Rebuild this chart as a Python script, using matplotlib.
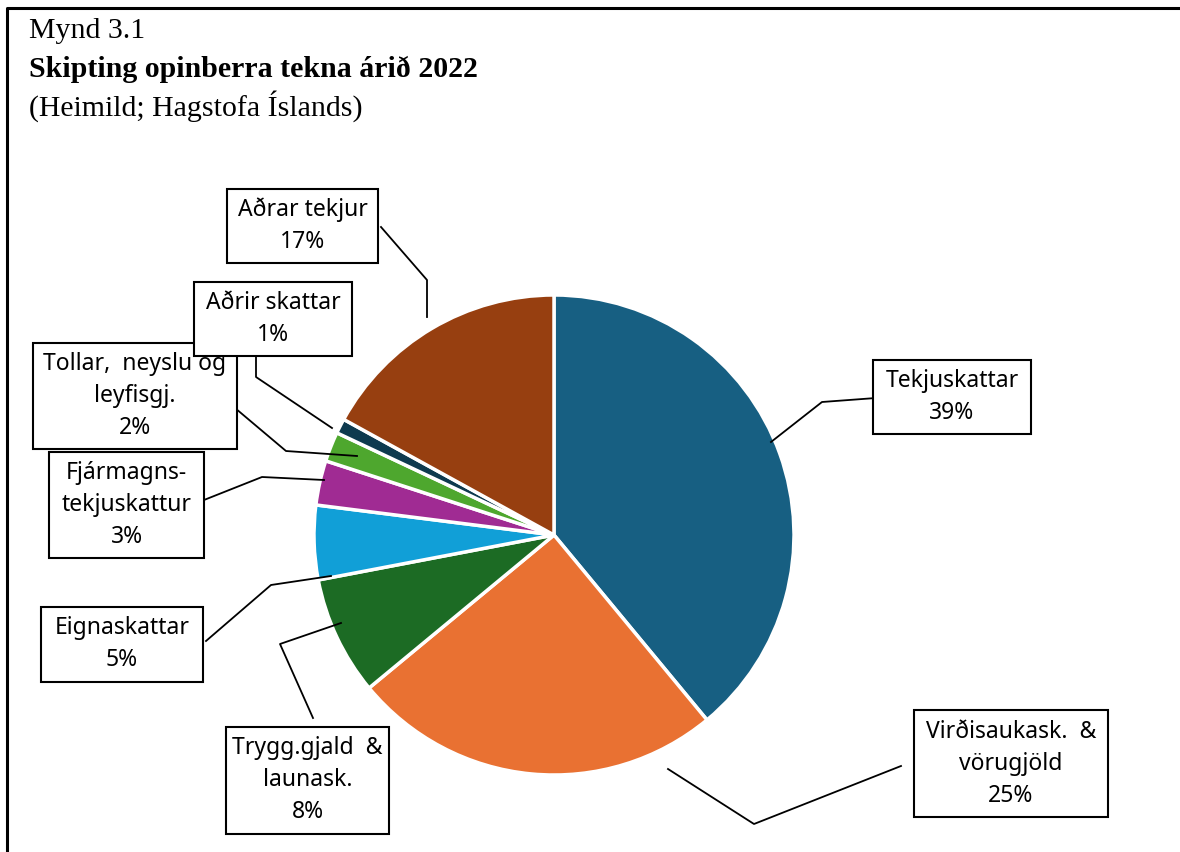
import matplotlib
matplotlib.use("Agg")
import matplotlib.pyplot as plt
from matplotlib.patches import Rectangle

# Public revenue split, 2022 (% of total), clockwise from 12 o'clock
categories = [
    "Tekjuskattar",
    "Virðisaukask.  &\nvörugjöld",
    "Trygg.gjald  &\nlaunask.",
    "Eignaskattar",
    "Fjármagns-\ntekjuskattur",
    "Tollar,  neyslu og\nleyfisgj.",
    "Aðrir skattar",
    "Aðrar tekjur",
]
shares = [39, 25, 8, 5, 3, 2, 1, 17]
colors = ["#175F82", "#E97132", "#1C6B24", "#119FD7", "#A02B93", "#4EA72E", "#0E3A4F", "#973F10"]

# label boxes (x0, y0, x1, y1) in pixels, y measured downwards
boxes = [
    (873, 360, 1031, 434),
    (914, 710, 1108, 817),
    (226, 727, 389, 834),
    (41, 607, 203, 682),
    (49, 452, 204, 558),
    (33, 343, 237, 449),
    (194, 282, 352, 356),
    (227, 189, 378, 263),
]
# leader lines from box to slice
leaders = [
    [(876, 398), (822, 402), (771, 442)],
    [(901, 766), (754, 824), (668, 769)],
    [(313, 718), (280, 644), (341, 623)],
    [(206, 641), (271, 585), (331, 576)],
    [(204, 500), (262, 477), (324, 480)],
    [(235, 408), (286, 451), (357, 456)],
    [(256, 357), (256, 377), (332, 428)],
    [(381, 227), (427, 280), (427, 317)],
]

W, H = 1180, 852
fig = plt.figure(figsize=(W / 100, H / 100), dpi=100)
ax = fig.add_axes([0, 0, 1, 1])

# y axis runs downwards, so counterclock in data space is clockwise on screen
ax.pie(
    shares,
    colors=colors,
    startangle=-90,
    counterclock=True,
    center=(554, 535),
    radius=240,
    wedgeprops=dict(edgecolor="white", linewidth=2.5),
    frame=True,
)
ax.set_xlim(0, W)
ax.set_ylim(H, 0)
ax.set_aspect("equal")
ax.axis("off")

# outer frame (only top and left edges fall inside the image)
ax.plot([7, 7, W + 5], [H + 5, 8, 8], color="black", lw=2.2, solid_capstyle="butt")

serif = ["Liberation Serif", "DejaVu Serif"]
ax.text(29, 38, "Mynd 3.1", family=serif, fontsize=21.5, va="baseline")
ax.text(29, 77, "Skipting opinberra tekna árið 2022", family=serif, fontsize=21.5,
        fontweight="bold", va="baseline")
ax.text(29, 116, "(Heimild; Hagstofa Íslands)", family=serif, fontsize=21.5, va="baseline")

sans = ["Noto Sans", "DejaVu Sans"]
for name, val, (x0, y0, x1, y1), pts in zip(categories, shares, boxes, leaders):
    xs, ys = zip(*pts)
    ax.plot(xs, ys, color="black", lw=1.3)
    ax.add_patch(Rectangle((x0, y0), x1 - x0, y1 - y0, facecolor="white",
                           edgecolor="black", lw=1.5, zorder=3))
    lines = name.split("\n") + [f"{val}%"]
    cx, cy = (x0 + x1) / 2, (y0 + y1) / 2
    step = 32
    top = cy - step * (len(lines) - 1) / 2
    for i, ln in enumerate(lines):
        ax.text(cx, top + i * step, ln, family=sans, fontsize=16.5,
                ha="center", va="center", zorder=4)

fig.savefig("out.png", dpi=100)
